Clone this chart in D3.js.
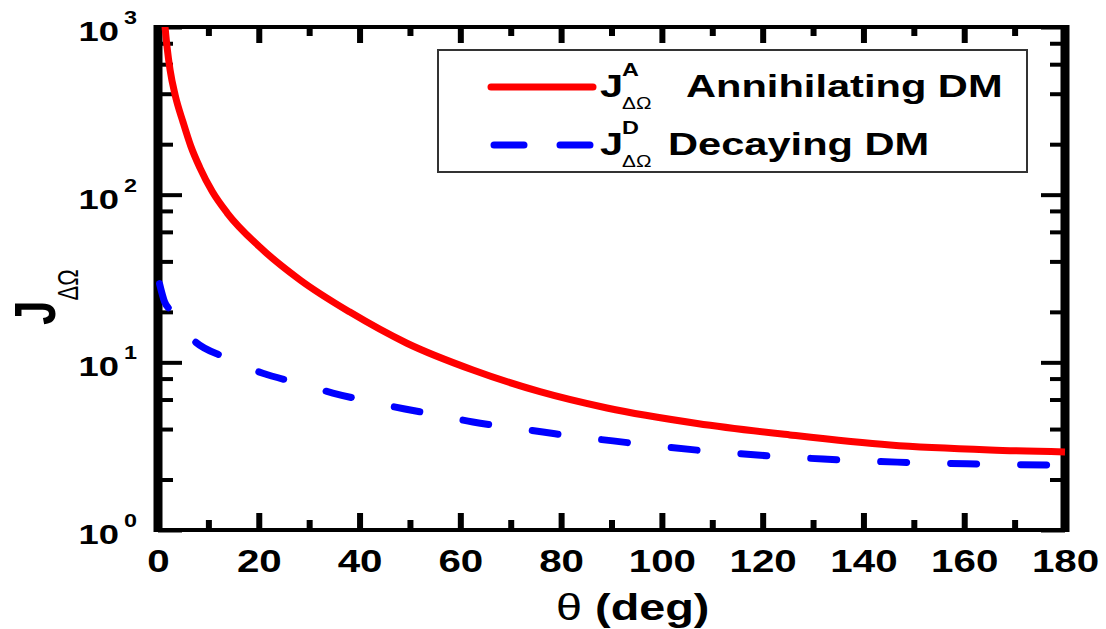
<!DOCTYPE html>
<html>
<head>
<meta charset="utf-8">
<title>J vs theta</title>
<style>
  body { margin: 0; background: #fff; }
  svg { display: block; font-family: "Liberation Sans", Arial, sans-serif; }
</style>
</head>
<body>
<div id="chart"></div>
<script src="https://d3js.org/d3.v7.min.js"></script>
<script>
// values (theta in deg, J on a log axis)
const thetaA = [1.2, 1.4, 1.8, 2.4, 3.4, 5, 6.5, 8.3, 10.8, 13.7, 20.2, 28.2, 38, 49.4, 62.5, 75.8, 89.1, 107, 125.4, 145.3, 165.1, 180];
const jAnnihilating = [1183, 1000, 759, 554, 393, 269, 195, 145, 104, 78, 48.7, 31, 20, 13.0, 9.0, 6.68, 5.34, 4.32, 3.69, 3.21, 3.0, 2.92];

const thetaD = [0.3, 1.3, 2.4, 7, 13.3, 20.8, 27.2, 34.7, 41.4, 49, 55.4, 62.5, 69.3, 76.4, 83.3, 90.3, 97.2, 118.9, 132, 146.7, 160.5, 180];
const jDecaying = [29.5, 23, 20.5, 13.6, 10.7, 8.6, 7.6, 6.56, 5.88, 5.27, 4.85, 4.41, 4.11, 3.84, 3.59, 3.40, 3.21, 2.80, 2.65, 2.54, 2.48, 2.44];

const xMajorTicks = [0, 20, 40, 60, 80, 100, 120, 140, 160, 180];
const xMinorTicks = [10, 30, 50, 70, 90, 110, 130, 150, 170];
const yMajorTicks = [1, 10, 100, 1000];
const yExponents = ["0", "1", "2", "3"];
const yMinorTicks = [2, 4, 6, 8, 20, 40, 60, 80, 200, 400, 600, 800];

const width = 1106, height = 629;
const stretch = 1.3; // the original figure is drawn wide, text included

const svg = d3.select("#chart").append("svg")
  .attr("width", width)
  .attr("height", height);

svg.append("rect").attr("width", width).attr("height", height).attr("fill", "#fff");

const x = d3.scaleLinear().domain([0, 180]).range([158, 1065]);
const y = d3.scaleLog().domain([1, 1000]).range([530, 27]);

// helper for wide text
function wideText(parent, txt, px, py, size, weight, anchor) {
  return parent.append("text")
    .attr("transform", `translate(${px},${py}) scale(${stretch},1)`)
    .attr("font-size", size)
    .attr("font-weight", weight)
    .attr("text-anchor", anchor || "start")
    .attr("fill", "#000")
    .text(txt);
}

function tidy(g, w) {
  g.select(".domain").remove();
  g.selectAll(".tick line").attr("stroke", "#000").attr("stroke-width", w);
}

// x axes (bottom with labels, top without)
const bottom = svg.append("g")
  .attr("transform", "translate(0,530)")
  .call(d3.axisBottom(x).tickValues(xMajorTicks).tickSize(-17).tickPadding(20).tickFormat(d3.format("d")))
  .call(tidy, 6);
bottom.selectAll("text")
  .attr("font-size", 31)
  .attr("font-weight", "bold")
  .attr("font-family", "Liberation Sans, Arial, sans-serif")
  .attr("fill", "#000")
  .attr("transform", `scale(${stretch},1)`);

svg.append("g")
  .attr("transform", "translate(0,530)")
  .call(d3.axisBottom(x).tickValues(xMinorTicks).tickSize(-10).tickFormat(""))
  .call(tidy, 6);

svg.append("g")
  .attr("transform", "translate(0,27)")
  .call(d3.axisTop(x).tickValues(xMajorTicks).tickSize(-16).tickFormat(""))
  .call(tidy, 6);
svg.append("g")
  .attr("transform", "translate(0,27)")
  .call(d3.axisTop(x).tickValues(xMinorTicks).tickSize(-9).tickFormat(""))
  .call(tidy, 6);

// y axes (left with labels, right without)
svg.append("g")
  .attr("transform", "translate(158,0)")
  .call(d3.axisLeft(y).tickValues(yMajorTicks).tickSize(-24).tickFormat(""))
  .call(tidy, 4);
svg.append("g")
  .attr("transform", "translate(158,0)")
  .call(d3.axisLeft(y).tickValues(yMinorTicks).tickSize(-15).tickFormat(""))
  .call(tidy, 4);
svg.append("g")
  .attr("transform", "translate(1065,0)")
  .call(d3.axisRight(y).tickValues(yMajorTicks).tickSize(-24).tickFormat(""))
  .call(tidy, 4);
svg.append("g")
  .attr("transform", "translate(1065,0)")
  .call(d3.axisRight(y).tickValues(yMinorTicks).tickSize(-15).tickFormat(""))
  .call(tidy, 4);

yMajorTicks.forEach((v, i) => {
  wideText(svg, "10", 119, y(v) + 14, 28, "bold", "end");
  wideText(svg, yExponents[i], 124, y(v) - 3, 18, "bold", "start");
});

// frame
svg.append("line").attr("x1", 154).attr("x2", 1069).attr("y1", 27).attr("y2", 27).attr("stroke", "#000").attr("stroke-width", 4);
svg.append("line").attr("x1", 154).attr("x2", 1069).attr("y1", 530).attr("y2", 530).attr("stroke", "#000").attr("stroke-width", 4);
svg.append("line").attr("x1", 158).attr("x2", 158).attr("y1", 25).attr("y2", 532).attr("stroke", "#000").attr("stroke-width", 9);
svg.append("line").attr("x1", 1065).attr("x2", 1065).attr("y1", 25).attr("y2", 532).attr("stroke", "#000").attr("stroke-width", 9);

// curves
svg.append("defs").append("clipPath").attr("id", "plot")
  .append("rect").attr("x", 150).attr("y", 27).attr("width", 922).attr("height", 505);

const line = d3.line()
  .x(d => x(d[0]))
  .y(d => y(d[1]))
  .curve(d3.curveMonotoneX);

svg.append("path")
  .datum(d3.zip(thetaA, jAnnihilating))
  .attr("clip-path", "url(#plot)")
  .attr("fill", "none")
  .attr("stroke", "#ff0000")
  .attr("stroke-width", 7)
  .attr("d", line);

svg.append("path")
  .datum(d3.zip(thetaD, jDecaying))
  .attr("clip-path", "url(#plot)")
  .attr("fill", "none")
  .attr("stroke", "#0000ff")
  .attr("stroke-width", 7)
  .attr("stroke-linecap", "round")
  .attr("stroke-dasharray", "26,44")
  .attr("d", line);

// legend
const legend = svg.append("g");
legend.append("rect")
  .attr("x", 438).attr("y", 50).attr("width", 589).attr("height", 122)
  .attr("fill", "#fff").attr("stroke", "#333").attr("stroke-width", 2);

legend.append("line")
  .attr("x1", 491).attr("x2", 593).attr("y1", 87).attr("y2", 87)
  .attr("stroke", "#ff0000").attr("stroke-width", 7).attr("stroke-linecap", "round");
legend.append("line")
  .attr("x1", 494).attr("x2", 590).attr("y1", 145).attr("y2", 145)
  .attr("stroke", "#0000ff").attr("stroke-width", 7).attr("stroke-linecap", "round")
  .attr("stroke-dasharray", "30,36");

const rows = [
  {sup: "A", name: "Annihilating DM", base: 97, nameX: 686},
  {sup: "D", name: "Decaying DM", base: 155, nameX: 668}
];
rows.forEach(r => {
  wideText(legend, "J", 600, r.base, 32, "bold");
  wideText(legend, r.sup, 622, r.base - 21, 18, "bold");
  wideText(legend, "\u0394\u03A9", 622, r.base + 12, 16, "normal");
  wideText(legend, r.name, r.nameX, r.base, 32, "bold");
});

// axis titles
const xt = wideText(svg, "", 556, 620, 36, "bold");
xt.append("tspan").attr("font-weight", "normal").text("\u03B8");
xt.append("tspan").text(" (deg)");

const yt = svg.append("text")
  .attr("transform", `translate(55,325) scale(${stretch},1) rotate(-90)`)
  .attr("font-size", 44)
  .attr("font-weight", "bold")
  .attr("fill", "#000");
yt.append("tspan").text("J");
yt.append("tspan").attr("font-size", 22).attr("font-weight", "normal").attr("dy", 18).text("\u0394\u03A9");
</script>
</body>
</html>
